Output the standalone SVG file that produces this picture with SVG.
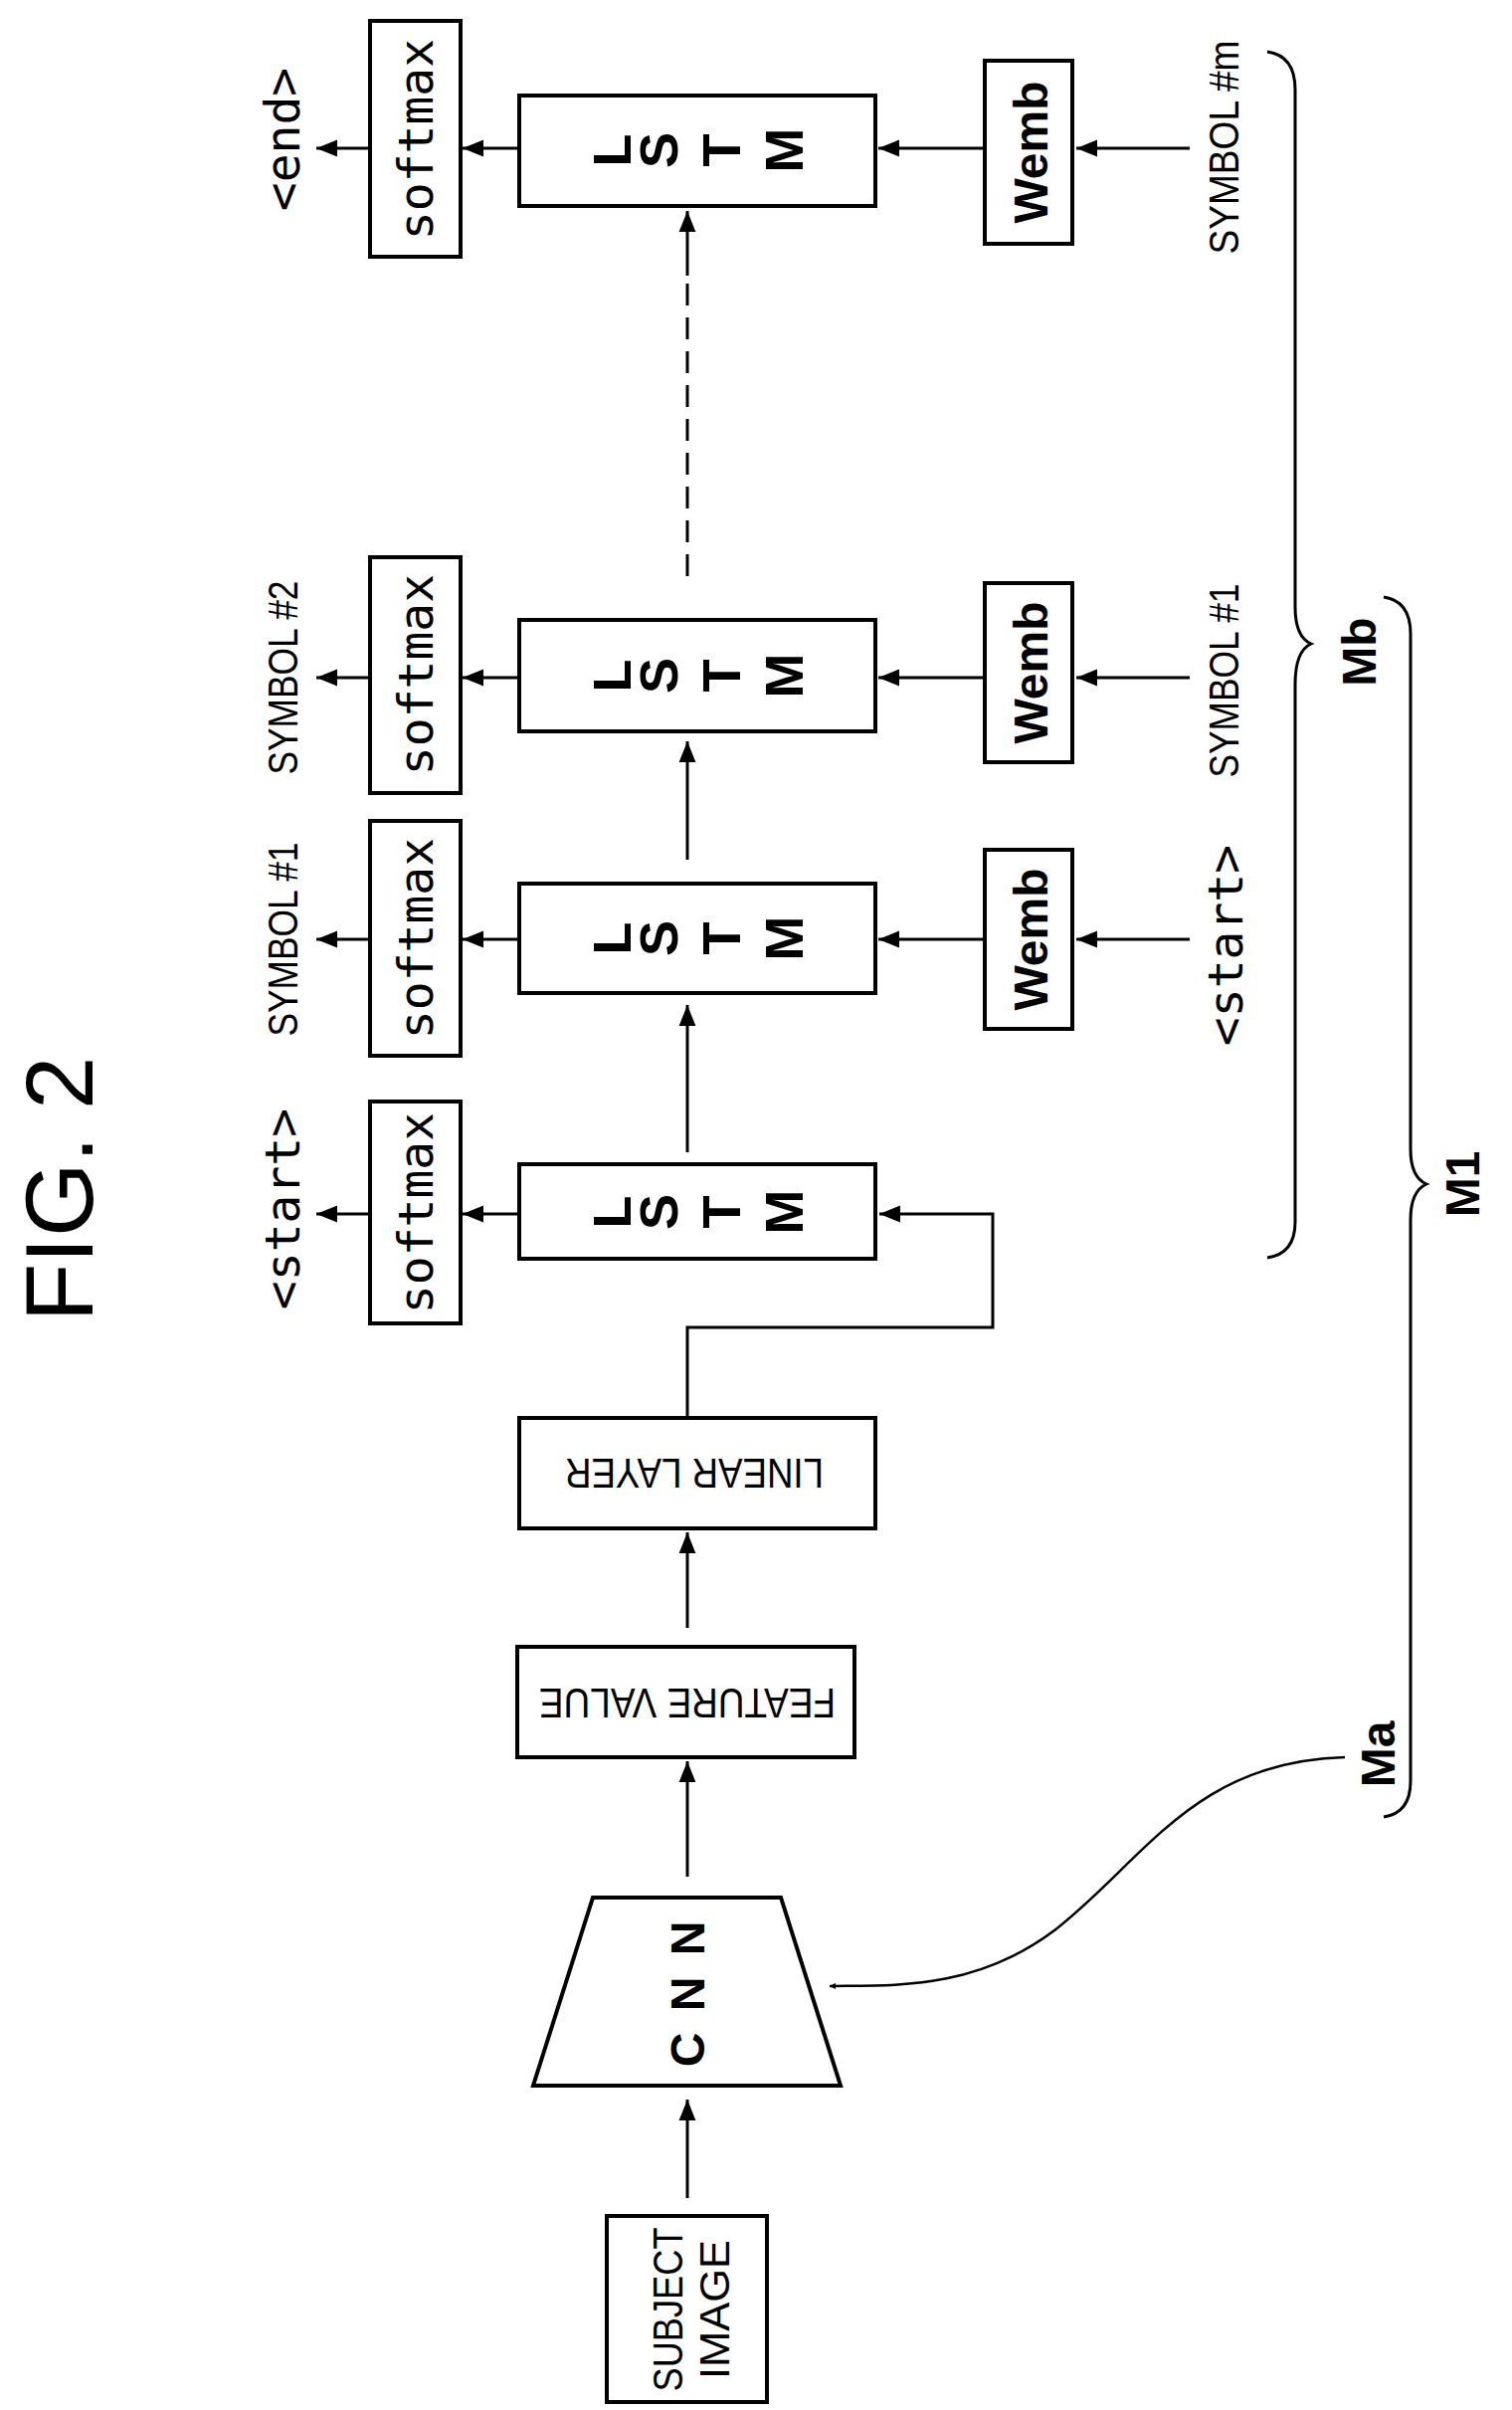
<svg xmlns="http://www.w3.org/2000/svg" width="1520" height="2422" viewBox="0 0 1520 2422">
<style>
.b{fill:#fff;stroke:#000;stroke-width:4}
.l{fill:none;stroke:#000;stroke-width:3}
.t{font-family:"Liberation Sans",Arial,sans-serif;text-anchor:middle;dominant-baseline:central;fill:#000}
.bd{font-weight:bold;font-size:48px}
.lt{font-weight:bold;font-size:54px}
.m{font-family:"DejaVu Sans Mono","Liberation Mono",monospace;text-anchor:middle;dominant-baseline:central;font-size:48px}
.n{font-size:42px}
</style>
<defs>
<marker id="a" viewBox="0 0 10 10" refX="10" refY="5" markerWidth="6" markerHeight="6" markerUnits="userSpaceOnUse" orient="auto"><path d="M0,0L10,5L0,10z"/></marker>
<marker id="A" viewBox="0 0 10 10" refX="10" refY="5" markerWidth="7" markerHeight="7" orient="auto"><path d="M0,1L10,5L0,9z"/></marker>
</defs>
<text class="t" font-size="96" transform="translate(59,1195) rotate(-90)">FIG. 2</text>

<g id="connectors">
<line class="l" x1="372" y1="149" x2="318" y2="149" marker-end="url(#A)"/>
<line class="l" x1="372" y1="681" x2="318" y2="681" marker-end="url(#A)"/>
<line class="l" x1="372" y1="944" x2="318" y2="944" marker-end="url(#A)"/>
<line class="l" x1="372" y1="1220" x2="318" y2="1220" marker-end="url(#A)"/>
<line class="l" x1="522" y1="149" x2="465" y2="149" marker-end="url(#A)"/>
<line class="l" x1="522" y1="681" x2="465" y2="681" marker-end="url(#A)"/>
<line class="l" x1="522" y1="944" x2="465" y2="944" marker-end="url(#A)"/>
<line class="l" x1="522" y1="1220" x2="465" y2="1220" marker-end="url(#A)"/>
<line class="l" x1="990" y1="149" x2="883" y2="149" marker-end="url(#A)"/>
<line class="l" x1="990" y1="681" x2="883" y2="681" marker-end="url(#A)"/>
<line class="l" x1="990" y1="944" x2="883" y2="944" marker-end="url(#A)"/>
<line class="l" x1="1196" y1="149" x2="1082" y2="149" marker-end="url(#A)"/>
<line class="l" x1="1196" y1="681" x2="1082" y2="681" marker-end="url(#A)"/>
<line class="l" x1="1196" y1="944" x2="1082" y2="944" marker-end="url(#A)"/>
<line class="l" x1="691" y1="1158" x2="691" y2="1010" marker-end="url(#A)"/>
<line class="l" x1="691" y1="864" x2="691" y2="745" marker-end="url(#A)"/>
<line class="l" x1="691" y1="579" x2="691" y2="277" stroke-dasharray="22,12"/>
<line class="l" x1="691" y1="277" x2="691" y2="212" marker-end="url(#A)"/>
<polyline class="l" points="691,1425 691,1334 998,1334 998,1220 884,1220" marker-end="url(#A)"/>
<line class="l" x1="691" y1="1636" x2="691" y2="1540" marker-end="url(#A)"/>
<line class="l" x1="691" y1="1886" x2="691" y2="1770" marker-end="url(#A)"/>
<line class="l" x1="691" y1="2209" x2="691" y2="2110" marker-end="url(#A)"/>
<path d="M1352,1766 C1200,1770 1150,1870 1060,1940 C980,2000 900,1995 834,1996" fill="none" stroke="#000" stroke-width="2.5" marker-end="url(#a)"/>
<path class="l" stroke-width="2.5" d="M1274,52 Q1302,56 1302,90 L1302,610 Q1302,640 1318,647 Q1302,654 1302,688 L1302,1228 Q1302,1260 1274,1264"/>
<path class="l" stroke-width="2.5" d="M1391,600 Q1418,604 1418,637 L1418,1155 Q1418,1183 1434,1190 Q1418,1197 1418,1226 L1418,1790 Q1418,1822 1391,1826"/>
</g>

<g id="softmax1"><rect class="b" x="372" y="1107" width="91" height="223"/><text class="m" transform="translate(418,1219) rotate(-90)">softmax</text></g>
<g id="softmax2"><rect class="b" x="372" y="825" width="91" height="236"/><text class="m" transform="translate(418,943) rotate(-90)">softmax</text></g>
<g id="softmax3"><rect class="b" x="372" y="560" width="91" height="237"/><text class="m" transform="translate(418,678) rotate(-90)">softmax</text></g>
<g id="softmax4"><rect class="b" x="372" y="21" width="91" height="237"/><text class="m" transform="translate(418,140) rotate(-90)">softmax</text></g>

<g id="lstm1"><rect class="b" x="522" y="1170" width="358" height="95"/>
<g class="t lt"><text transform="translate(615,1218) rotate(-90)">L</text><text transform="translate(662,1218) rotate(-90)">S</text><text transform="translate(725,1218) rotate(-90)">T</text><text transform="translate(788,1218) rotate(-90)">M</text></g></g>
<g id="lstm2"><rect class="b" x="522" y="888" width="358" height="110"/>
<g class="t lt"><text transform="translate(615,943) rotate(-90)">L</text><text transform="translate(662,943) rotate(-90)">S</text><text transform="translate(725,943) rotate(-90)">T</text><text transform="translate(788,943) rotate(-90)">M</text></g></g>
<g id="lstm3"><rect class="b" x="522" y="623" width="358" height="112"/>
<g class="t lt"><text transform="translate(615,679) rotate(-90)">L</text><text transform="translate(662,679) rotate(-90)">S</text><text transform="translate(725,679) rotate(-90)">T</text><text transform="translate(788,679) rotate(-90)">M</text></g></g>
<g id="lstm4"><rect class="b" x="522" y="96" width="358" height="111"/>
<g class="t lt"><text transform="translate(615,151) rotate(-90)">L</text><text transform="translate(662,151) rotate(-90)">S</text><text transform="translate(725,151) rotate(-90)">T</text><text transform="translate(788,151) rotate(-90)">M</text></g></g>

<g id="wemb2"><rect class="b" x="990" y="854" width="88" height="180"/><text class="t bd" transform="translate(1036,944) rotate(-90)">Wemb</text></g>
<g id="wemb3"><rect class="b" x="990" y="586" width="88" height="180"/><text class="t bd" transform="translate(1036,676) rotate(-90)">Wemb</text></g>
<g id="wemb4"><rect class="b" x="990" y="61" width="88" height="184"/><text class="t bd" transform="translate(1036,153) rotate(-90)">Wemb</text></g>

<g id="labels">
<text class="m" font-size="52" transform="translate(284,1215) rotate(-90)">&lt;start&gt;</text>
<text class="t n" textLength="195" lengthAdjust="spacingAndGlyphs" transform="translate(284,944) rotate(-90)">SYMBOL #1</text>
<text class="t n" textLength="195" lengthAdjust="spacingAndGlyphs" transform="translate(284,681) rotate(-90)">SYMBOL #2</text>
<text class="m" font-size="52" transform="translate(284,140) rotate(-90)">&lt;end&gt;</text>
<text class="m" font-size="52" transform="translate(1232,950) rotate(-90)">&lt;start&gt;</text>
<text class="t n" textLength="195" lengthAdjust="spacingAndGlyphs" transform="translate(1230,684) rotate(-90)">SYMBOL #1</text>
<text class="t n" textLength="215" lengthAdjust="spacingAndGlyphs" transform="translate(1230,148) rotate(-90)">SYMBOL #m</text>
<text class="t bd" transform="translate(1366,655) rotate(-90)">Mb</text>
<text class="t bd" transform="translate(1470,1190) rotate(-90)">M1</text>
<text class="t bd" transform="translate(1385,1763) rotate(-90)">Ma</text>
</g>

<g id="linear"><rect class="b" x="522" y="1425" width="358" height="111"/><text class="t n" textLength="260" lengthAdjust="spacingAndGlyphs" transform="translate(698,1480) rotate(180)">LINEAR LAYER</text></g>
<g id="feature"><rect class="b" x="520" y="1655" width="339" height="111"/><text class="t n" textLength="298" lengthAdjust="spacingAndGlyphs" transform="translate(691,1711) rotate(180)">FEATURE VALUE</text></g>
<g id="cnn"><polygon class="b" points="596,1907 785,1907 845,2096 536,2096"/>
<g class="t bd"><text transform="translate(691,2060) rotate(-90)">C</text><text transform="translate(691,2004) rotate(-90)">N</text><text transform="translate(691,1948) rotate(-90)">N</text></g></g>
<g id="subject"><rect class="b" x="610" y="2227" width="161" height="187"/>
<text class="t n" textLength="165" lengthAdjust="spacingAndGlyphs" transform="translate(671,2321) rotate(-90)">SUBJECT</text>
<text class="t n" textLength="140" lengthAdjust="spacingAndGlyphs" transform="translate(718,2321) rotate(-90)">IMAGE</text></g>
</svg>
